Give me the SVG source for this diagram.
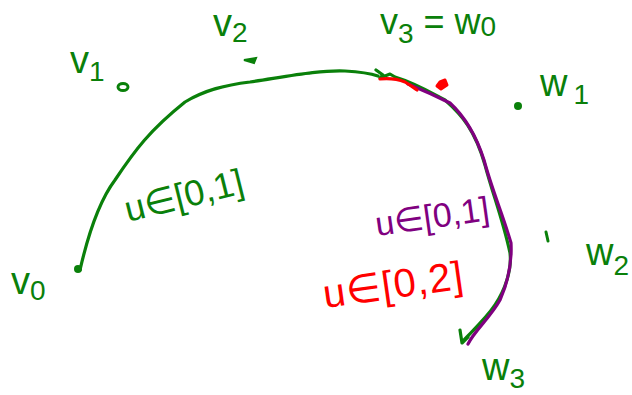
<svg xmlns="http://www.w3.org/2000/svg" width="632" height="395" viewBox="0 0 632 395">
<style>
text{font-family:"Liberation Sans","DejaVu Sans",sans-serif;font-size:38px}
.g{fill:#0a800a}.p{fill:#800080}.r{fill:#ff0000}
.sub{font-size:28px}
.c{fill:none;stroke-width:3.2;stroke-linecap:round;stroke-linejoin:round}
.cg{stroke:#0a800a}.cp{stroke:#800080}.cr{stroke:#ff0000}
</style>
<rect width="632" height="395" fill="#fff"/>
<g id="connectors">
<path class="c cg" d="M80,270 C88,235 100,200 115,180 C135,150 150,130 185,102 C205,90 225,85 250,82 C290,76 320,70 345,71 C362,72 372,74 378,76"/>
<path class="c cg" d="M376,70 L383,75 L380,78 L390,74 L395,77 C415,83 430,92 445,100 C462,115 475,130 485,165 C493,195 503,220 510,253 C512,270 505,290 495,305 C485,320 470,333 462,342 M460,330 L462,343 L468,337"/>
<path class="c cp" d="M408,84 C425,91 440,98 450,103 C463,115 475,132 484,160 C492,190 503,215 511,243 C512,262 508,282 500,300 C490,318 475,330 468,344"/>
<path class="c cr" d="M380,79 C390,78 400,80 405,82 C410,85 414,88 417,90"/>
<path class="cr" style="fill:#ff0000" stroke-width="3" stroke-linejoin="round" d="M437,86 L440,82 L445,80 L447,85 L441,89 Z"/>
</g>
<g id="v0">
<circle cx="78" cy="269" r="4" class="g"/>
<text x="11" y="294" class="g">v<tspan class="sub" dy="6">0</tspan></text>
</g>
<g id="v1">
<ellipse cx="123" cy="87" rx="5" ry="3.5" fill="none" stroke="#0a800a" stroke-width="3"/>
<text x="70" y="73" class="g">v<tspan class="sub" dy="8">1</tspan></text>
</g>
<g id="v2">
<path d="M244,60 L256,58 L254,63 Z" fill="#0a800a" stroke="#0a800a" stroke-width="2"/>
<text x="213" y="36" class="g">v<tspan class="sub" dy="6">2</tspan></text>
</g>
<g id="v3w0">
<text x="380" y="34" class="g" style="font-size:36px">v<tspan class="sub" dy="9">3</tspan><tspan dy="-9"> = w</tspan><tspan class="sub" dy="2">0</tspan></text>
</g>
<g id="w1">
<circle cx="518" cy="106" r="4" class="g"/>
<text x="540" y="96" class="g">w<tspan class="sub" dx="6" dy="8">1</tspan></text>
</g>
<g id="w2">
<path d="M546,232 L548,241" stroke="#0a800a" stroke-width="3" stroke-linecap="round"/>
<text x="586" y="265" class="g">w<tspan class="sub" dy="10">2</tspan></text>
</g>
<g id="w3">
<text x="482" y="380" class="g">w<tspan class="sub" dy="8">3</tspan></text>
</g>
<g id="labels">
<text x="128" y="222" class="g" transform="rotate(-14 128 222)" style="font-size:36px">u∈[0,1]</text>
<text x="377" y="236" class="p" transform="rotate(-8 377 236)" style="font-size:34px">u∈[0,1]</text>
<text x="325" y="308" class="r" transform="rotate(-8 325 308)" style="font-size:40px;letter-spacing:1px">u∈[0,2]</text>
</g>
</svg>
